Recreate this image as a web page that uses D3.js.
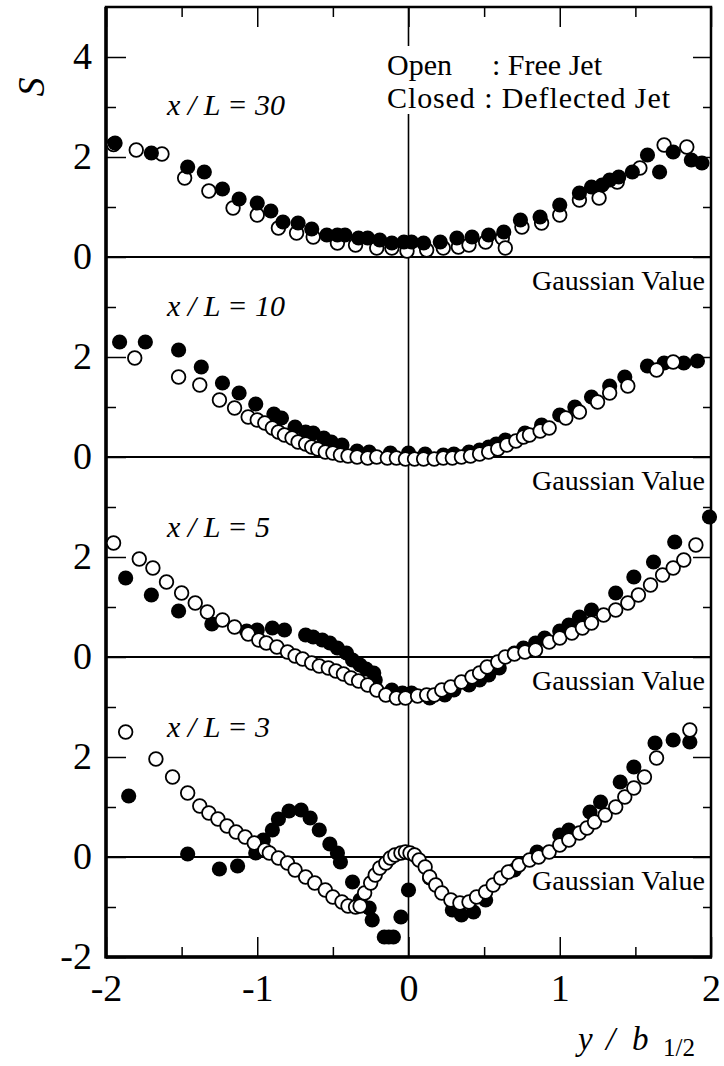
<!DOCTYPE html>
<html>
<head>
<meta charset="utf-8">
<script src="https://cdn.jsdelivr.net/npm/d3@7"></script>
<style>
  html, body { margin: 0; padding: 0; background: #fff; }
  svg { display: block; }
  text { font-family: "Liberation Serif", "Times New Roman", serif; fill: #000; }
</style>
</head>
<body>
<svg id="chart" width="724" height="1066"></svg>
<script>
// Profiles of skewness S across the jet, y / b_1/2, at four stations x / L.
// Each station is drawn in its own band, shifted vertically by 4 units.
const stationLabels = ["x / L = 30", "x / L = 10", "x / L = 5", "x / L = 3"];
const stationOffsets = [12, 8, 4, 0];

// [y / b_1/2, S] — open circles: free jet
const open30 = [[-1.95,2.25],[-1.80,2.14],[-1.63,2.06],[-1.48,1.58],[-1.32,1.32],[-1.16,0.98],[-1.00,0.84],[-0.86,0.58],[-0.74,0.48],[-0.63,0.40],[-0.47,0.28],[-0.35,0.24],[-0.21,0.18],[-0.11,0.18],[-0.01,0.12],[0.12,0.14],[0.23,0.18],[0.33,0.20],[0.40,0.24],[0.51,0.30],[0.62,0.38],[0.64,0.18],[0.75,0.60],[0.88,0.68],[1.00,0.84],[1.13,1.14],[1.26,1.18],[1.38,1.50],[1.53,1.78],[1.69,2.24],[1.84,2.20]];
// closed circles: deflected jet
const closed30 = [[-1.94,2.28],[-1.70,2.08],[-1.46,1.80],[-1.35,1.70],[-1.23,1.36],[-1.12,1.16],[-1.00,1.08],[-0.91,0.92],[-0.83,0.70],[-0.73,0.68],[-0.64,0.56],[-0.54,0.44],[-0.47,0.44],[-0.42,0.44],[-0.33,0.38],[-0.27,0.38],[-0.19,0.34],[-0.11,0.28],[-0.03,0.30],[0.02,0.30],[0.10,0.28],[0.21,0.30],[0.32,0.38],[0.42,0.40],[0.53,0.44],[0.63,0.50],[0.74,0.74],[0.87,0.80],[1.00,1.04],[1.13,1.28],[1.21,1.40],[1.28,1.44],[1.33,1.54],[1.39,1.60],[1.48,1.70],[1.58,2.04],[1.66,1.70],[1.75,2.10],[1.87,1.94],[1.94,1.88]];

const open10 = [[-1.81,1.98],[-1.52,1.60],[-1.38,1.44],[-1.25,1.14],[-1.15,0.98],[-1.06,0.80],[-1.00,0.74],[-0.95,0.68],[-0.90,0.58],[-0.86,0.50],[-0.82,0.44],[-0.77,0.38],[-0.73,0.30],[-0.68,0.26],[-0.64,0.20],[-0.60,0.16],[-0.55,0.10],[-0.50,0.08],[-0.45,0.04],[-0.40,0.02],[-0.34,0.00],[-0.27,-0.02],[-0.21,0.00],[-0.14,-0.02],[-0.08,-0.02],[-0.02,-0.04],[0.04,-0.04],[0.10,-0.04],[0.17,-0.04],[0.23,-0.02],[0.29,-0.02],[0.35,0.00],[0.41,0.02],[0.47,0.06],[0.53,0.10],[0.59,0.16],[0.65,0.24],[0.71,0.32],[0.76,0.40],[0.80,0.44],[0.87,0.52],[0.93,0.58],[1.04,0.78],[1.13,0.90],[1.25,1.10],[1.33,1.28],[1.45,1.42],[1.64,1.74],[1.75,1.90]];
const closed10 = [[-1.91,2.30],[-1.74,2.30],[-1.52,2.14],[-1.37,1.80],[-1.23,1.48],[-1.12,1.28],[-1.01,1.06],[-0.89,0.86],[-0.84,0.78],[-0.75,0.60],[-0.68,0.50],[-0.63,0.48],[-0.56,0.38],[-0.51,0.30],[-0.44,0.24],[-0.34,0.12],[-0.26,0.10],[-0.12,0.08],[0.00,0.08],[0.11,0.06],[0.23,0.04],[0.30,0.06],[0.40,0.10],[0.47,0.14],[0.53,0.20],[0.58,0.26],[0.64,0.34],[0.77,0.48],[0.88,0.64],[1.00,0.84],[1.10,1.00],[1.21,1.20],[1.33,1.42],[1.43,1.60],[1.58,1.82],[1.69,1.88],[1.82,1.88],[1.91,1.92]];

const open5 = [[-1.95,2.28],[-1.78,1.96],[-1.69,1.78],[-1.60,1.50],[-1.50,1.28],[-1.41,1.08],[-1.33,0.90],[-1.23,0.74],[-1.15,0.60],[-1.06,0.46],[-0.99,0.34],[-0.94,0.28],[-0.87,0.20],[-0.80,0.10],[-0.75,0.02],[-0.70,-0.04],[-0.64,-0.12],[-0.59,-0.18],[-0.53,-0.22],[-0.48,-0.28],[-0.43,-0.34],[-0.38,-0.42],[-0.33,-0.48],[-0.27,-0.56],[-0.21,-0.66],[-0.15,-0.76],[-0.08,-0.82],[-0.02,-0.82],[0.06,-0.78],[0.12,-0.76],[0.17,-0.76],[0.22,-0.66],[0.28,-0.60],[0.35,-0.50],[0.42,-0.40],[0.47,-0.32],[0.52,-0.20],[0.59,-0.10],[0.64,0.00],[0.70,0.06],[0.77,0.10],[0.84,0.14],[0.93,0.30],[1.00,0.38],[1.08,0.48],[1.15,0.58],[1.21,0.68],[1.29,0.84],[1.37,0.94],[1.45,1.08],[1.52,1.24],[1.60,1.44],[1.68,1.64],[1.75,1.78],[1.82,1.94],[1.90,2.24]];
const closed5 = [[-1.87,1.58],[-1.70,1.24],[-1.52,0.92],[-1.30,0.66],[-1.07,0.52],[-1.00,0.54],[-0.90,0.58],[-0.82,0.54],[-0.68,0.44],[-0.63,0.40],[-0.57,0.34],[-0.52,0.28],[-0.47,0.18],[-0.41,0.08],[-0.37,-0.06],[-0.32,-0.16],[-0.28,-0.24],[-0.23,-0.32],[-0.22,-0.46],[-0.11,-0.66],[-0.04,-0.72],[0.02,-0.72],[0.14,-0.82],[0.24,-0.76],[0.30,-0.66],[0.40,-0.56],[0.47,-0.46],[0.53,-0.36],[0.60,-0.22],[0.70,0.08],[0.76,0.18],[0.84,0.28],[0.90,0.38],[1.00,0.52],[1.06,0.64],[1.13,0.80],[1.21,0.94],[1.37,1.28],[1.49,1.60],[1.62,1.90],[1.76,2.30],[1.99,2.80]];

const open3 = [[-1.87,2.50],[-1.67,1.96],[-1.56,1.60],[-1.46,1.28],[-1.38,1.02],[-1.32,0.88],[-1.26,0.76],[-1.20,0.62],[-1.14,0.50],[-1.08,0.40],[-1.02,0.28],[-0.95,0.14],[-0.92,0.08],[-0.86,-0.02],[-0.80,-0.12],[-0.75,-0.26],[-0.68,-0.40],[-0.62,-0.52],[-0.55,-0.66],[-0.50,-0.80],[-0.44,-0.90],[-0.40,-0.98],[-0.35,-1.00],[-0.32,-0.98],[-0.29,-0.72],[-0.25,-0.52],[-0.22,-0.36],[-0.19,-0.22],[-0.15,-0.12],[-0.12,-0.02],[-0.09,0.04],[-0.05,0.08],[-0.02,0.10],[0.01,0.08],[0.04,0.04],[0.07,-0.06],[0.11,-0.20],[0.14,-0.40],[0.18,-0.56],[0.22,-0.72],[0.28,-0.86],[0.34,-0.92],[0.40,-0.90],[0.45,-0.80],[0.51,-0.70],[0.56,-0.56],[0.61,-0.42],[0.66,-0.30],[0.73,-0.16],[0.80,-0.06],[0.86,0.00],[0.93,0.10],[1.00,0.24],[1.06,0.34],[1.13,0.48],[1.18,0.58],[1.23,0.70],[1.30,0.84],[1.37,1.00],[1.43,1.20],[1.49,1.38],[1.56,1.60],[1.64,1.98],[1.86,2.54]];
const closed3 = [[-1.85,1.22],[-1.46,0.06],[-1.25,-0.24],[-1.13,-0.18],[-1.01,0.08],[-0.96,0.34],[-0.90,0.54],[-0.86,0.76],[-0.79,0.92],[-0.71,0.94],[-0.65,0.78],[-0.59,0.54],[-0.52,0.26],[-0.47,0.08],[-0.45,-0.10],[-0.37,-0.50],[-0.32,-0.86],[-0.26,-1.02],[-0.24,-1.26],[-0.16,-1.60],[-0.13,-1.60],[-0.10,-1.60],[-0.05,-1.20],[0.00,-0.66],[0.14,-0.42],[0.29,-1.06],[0.35,-1.16],[0.43,-1.10],[0.51,-0.86],[0.70,-0.26],[0.85,0.10],[1.00,0.44],[1.06,0.54],[1.20,0.90],[1.27,1.10],[1.40,1.50],[1.49,1.80],[1.63,2.28],[1.75,2.34],[1.86,2.30]];

const openSets = [open30, open10, open5, open3];
const closedSets = [closed30, closed10, closed5, closed3];

// Left axis: one tick per unit on the stacked scale, labels every 2 units
const yTickValues = [-2, 0, 2, 4, 6, 8, 10, 12, 14, 16];
const yTickLabels = ["-2", "0", "2", "0", "2", "0", "2", "0", "2", "4"];
const xTickValues = [-2, -1, 0, 1, 2];
const xTickLabels = ["-2", "-1", "0", "1", "2"];

const svg = d3.select("#chart");
const plotL = 106, plotR = 711, plotT = 7, plotB = 957;

const x = d3.scaleLinear().domain([-2, 2]).range([plotL, plotR]);
const y = d3.scaleLinear().domain([-2, 17]).range([plotB, plotT]);

const minorY = d3.range(-1, 17, 2);
const minorX = [-1.5, -0.5, 0.5, 1.5];

// Zero line of every station and the centre line
const guides = svg.append("g").attr("stroke", "#000").attr("fill", "none");
stationOffsets.forEach(off => {
  guides.append("line").attr("x1", plotL).attr("x2", plotR)
    .attr("y1", y(off)).attr("y2", y(off)).attr("stroke-width", 2);
});
guides.append("line").attr("x1", x(0)).attr("x2", x(0))
  .attr("y1", plotT).attr("y2", plotB).attr("stroke-width", 1.6);

// Axes with inward ticks
function styleAxis(g) {
  g.select(".domain").remove();
  g.attr("font-family", null);
  g.selectAll(".tick line").attr("stroke", "#000").attr("stroke-width", 1.5);
}
svg.append("g").attr("transform", `translate(${plotL},0)`)
  .call(d3.axisLeft(y).tickValues(yTickValues).tickSize(-20).tickPadding(14)
    .tickFormat((d, i) => yTickLabels[i]))
  .call(styleAxis)
  .call(g => g.selectAll("text").attr("font-size", 38).attr("dy", "0.3em"));
svg.append("g").attr("transform", `translate(${plotL},0)`)
  .call(d3.axisLeft(y).tickValues(minorY).tickSize(-10).tickFormat(""))
  .call(styleAxis);
svg.append("g").attr("transform", `translate(${plotR},0)`)
  .call(d3.axisRight(y).tickValues(yTickValues).tickSize(-18).tickFormat(""))
  .call(styleAxis);
svg.append("g").attr("transform", `translate(${plotR},0)`)
  .call(d3.axisRight(y).tickValues(minorY).tickSize(-8).tickFormat(""))
  .call(styleAxis);
svg.append("g").attr("transform", `translate(0,${plotB})`)
  .call(d3.axisBottom(x).tickValues(xTickValues).tickSize(-20).tickPadding(14)
    .tickFormat((d, i) => xTickLabels[i]))
  .call(styleAxis)
  .call(g => g.selectAll("text").attr("font-size", 38).attr("dy", "0.78em"));
svg.append("g").attr("transform", `translate(0,${plotB})`)
  .call(d3.axisBottom(x).tickValues(minorX).tickSize(-10).tickFormat(""))
  .call(styleAxis);
svg.append("g").attr("transform", `translate(0,${plotT})`)
  .call(d3.axisTop(x).tickValues(xTickValues).tickSize(-20).tickFormat(""))
  .call(styleAxis);
svg.append("g").attr("transform", `translate(0,${plotT})`)
  .call(d3.axisTop(x).tickValues(minorX).tickSize(-10).tickFormat(""))
  .call(styleAxis);

// Frame
svg.append("rect").attr("x", plotL).attr("y", plotT)
  .attr("width", plotR - plotL).attr("height", plotB - plotT)
  .attr("fill", "none").attr("stroke", "#000").attr("stroke-width", 2.5);
svg.append("line").attr("x1", plotL).attr("x2", plotL).attr("y1", plotT).attr("y2", plotB + 1.5)
  .attr("stroke", "#000").attr("stroke-width", 3.5);
svg.append("line").attr("x1", plotL).attr("x2", plotR + 1).attr("y1", plotB).attr("y2", plotB)
  .attr("stroke", "#000").attr("stroke-width", 3.5);

// Legend, on a white panel that interrupts the centre line
const legend = svg.append("g").attr("font-size", 30);
legend.append("rect").attr("x", 382).attr("y", 46).attr("width", 295).attr("height", 68).attr("fill", "#fff");
legend.append("text").attr("x", 387).attr("y", 75).text("Open");
legend.append("text").attr("x", 602).attr("y", 75).attr("text-anchor", "end").text(": Free Jet");
legend.append("text").attr("x", 387).attr("y", 108).attr("textLength", 283).attr("lengthAdjust", "spacing")
  .text("Closed : Deflected Jet");

// Station labels and the Gaussian reference under each zero line
const labelBaselines = [115, 316, 537, 737];
stationLabels.forEach((lab, i) => {
  svg.append("text").attr("x", 167).attr("y", labelBaselines[i])
    .attr("font-size", 30).attr("font-style", "italic").text(lab);
  svg.append("text").attr("x", 705).attr("y", y(stationOffsets[i]) + 33)
    .attr("text-anchor", "end").attr("font-size", 28).text("Gaussian Value");
});

// Data points
stationOffsets.forEach((off, i) => {
  const g = svg.append("g");
  const drawClosed = () => g.selectAll(null).data(closedSets[i]).join("circle")
    .attr("cx", d => x(d[0])).attr("cy", d => y(d[1] + off)).attr("r", 7.6).attr("fill", "#000");
  const drawOpen = () => g.selectAll(null).data(openSets[i]).join("circle")
    .attr("cx", d => x(d[0])).attr("cy", d => y(d[1] + off)).attr("r", 6.8)
    .attr("fill", "#fff").attr("stroke", "#000").attr("stroke-width", 1.8);
  if (i === 0) { drawOpen(); drawClosed(); } else { drawClosed(); drawOpen(); }
});

// Axis titles
svg.append("text").attr("transform", "translate(44,87) rotate(-90)")
  .attr("text-anchor", "middle").attr("font-size", 38).attr("font-style", "italic").text("S");
const xt = svg.append("text").attr("y", 1050).attr("font-size", 33);
xt.append("tspan").attr("x", 578).attr("font-style", "italic").text("y");
xt.append("tspan").attr("x", 606).attr("font-style", "italic").text("/");
xt.append("tspan").attr("x", 632).attr("font-style", "italic").text("b");
xt.append("tspan").attr("x", 663).attr("dy", 6).attr("font-size", 25).text("1/2");
</script>
</body>
</html>
